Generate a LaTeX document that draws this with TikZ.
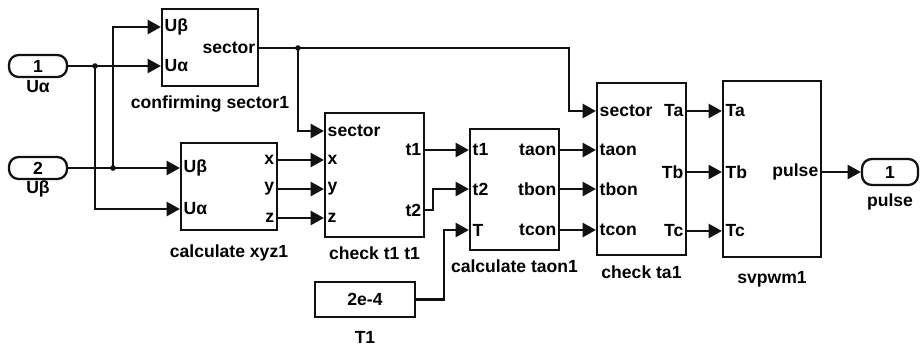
\documentclass[tikz,border=0pt]{standalone}
\usepackage{fontspec}
\setmainfont{Liberation Sans}
\usetikzlibrary{positioning,calc,arrows.meta}
\definecolor{ink}{HTML}{111111}
\tikzset{
  block/.style={draw=ink,line width=1.3pt,inner sep=0pt,fill=white},
  term/.style={draw=ink,line width=1.3pt,rounded corners=5.5pt,inner sep=0pt,
               font=\fontsize{10}{12}\selectfont\bfseries},
  pinin/.style={anchor=west,inner sep=2pt,font=\fontsize{10}{12}\selectfont\bfseries},
  pinout/.style={anchor=east,inner sep=2pt,font=\fontsize{10}{12}\selectfont\bfseries},
  caption/.style={inner sep=0pt,font=\fontsize{10}{12}\selectfont\bfseries},
  wire/.style={draw=ink,line width=1.2pt,-{Triangle[length=7.5pt,width=8pt]}},
  joint/.style={fill=ink}
}

\begin{document}
\begin{tikzpicture}[x=0.02cm,y=-0.02cm]
  \useasboundingbox (0,0) rectangle (920,345);

  % terminals
  \node[term,minimum width=1.16cm,minimum height=0.44cm] (in1) at (38,66) {1};
  \node[caption] at (38,87) {Uα};
  \node[term,minimum width=1.16cm,minimum height=0.44cm] (in2) at (38,168) {2};
  \node[caption] at (38,189) {Uβ};
  \node[term,minimum width=1.12cm,minimum height=0.52cm] (out1) at (890,172) {1};
  \node[caption] at (890,202) {pulse};
  \node[block,minimum width=2cm,minimum height=0.7cm,
        font=\fontsize{10}{12}\selectfont\bfseries] (t1) at (365,299.5) {2e-4};
  \node[caption] at (365,337) {T1};

  % blocks
  \node[block,minimum width=1.92cm,minimum height=1.54cm] (cs) at (210,47.5) {};
  \node[caption] at (210,104) {confirming sector1};
  \node[block,minimum width=1.92cm,minimum height=1.74cm] (xyz) at (229,186.5) {};
  \node[caption] at (229,253) {calculate xyz1};
  \node[block,minimum width=1.98cm,minimum height=2.48cm] (chk) at (374.5,175) {};
  \node[caption] at (374.5,253) {check t1 t1};
  \node[block,minimum width=1.78cm,minimum height=2.42cm] (taon) at (514.5,189.5) {};
  \node[caption] at (514.5,266) {calculate taon1};
  \node[block,minimum width=1.78cm,minimum height=3.44cm] (cta) at (641.5,169) {};
  \node[caption] at (641.5,272) {check ta1};
  \node[block,minimum width=1.96cm,minimum height=3.52cm] (svp) at (772,169) {};
  \node[caption] at (772,279) {svpwm1};

  % ports
  \coordinate (cs-ub)   at (cs.west |- 0,27);
  \coordinate (cs-ua)   at (cs.west |- 0,66);
  \coordinate (cs-sec)  at (cs.east |- 0,48);
  \coordinate (xyz-ub)  at (xyz.west |- 0,168);
  \coordinate (xyz-ua)  at (xyz.west |- 0,209);
  \coordinate (xyz-x)   at (xyz.east |- 0,160);
  \coordinate (xyz-y)   at (xyz.east |- 0,189);
  \coordinate (xyz-z)   at (xyz.east |- 0,218);
  \coordinate (chk-sec) at (chk.west |- 0,131);
  \coordinate (chk-x)   at (chk.west |- 0,160);
  \coordinate (chk-y)   at (chk.west |- 0,189);
  \coordinate (chk-z)   at (chk.west |- 0,218);
  \coordinate (chk-t1)  at (chk.east |- 0,150);
  \coordinate (chk-t2)  at (chk.east |- 0,210);
  \coordinate (taon-t1) at (taon.west |- 0,150);
  \coordinate (taon-t2) at (taon.west |- 0,189);
  \coordinate (taon-T)  at (taon.west |- 0,230);
  \coordinate (taon-a)  at (taon.east |- 0,150);
  \coordinate (taon-b)  at (taon.east |- 0,189);
  \coordinate (taon-c)  at (taon.east |- 0,230);
  \coordinate (cta-sec) at (cta.west |- 0,111);
  \coordinate (cta-a)   at (cta.west |- 0,150);
  \coordinate (cta-b)   at (cta.west |- 0,189);
  \coordinate (cta-c)   at (cta.west |- 0,230);
  \coordinate (cta-Ta)  at (cta.east |- 0,111);
  \coordinate (cta-Tb)  at (cta.east |- 0,172);
  \coordinate (cta-Tc)  at (cta.east |- 0,231);
  \coordinate (svp-a)   at (svp.west |- 0,111);
  \coordinate (svp-b)   at (svp.west |- 0,172);
  \coordinate (svp-c)   at (svp.west |- 0,231);
  \coordinate (svp-p)   at (svp.east |- 0,172);

  % port names
  \node[pinin] at (cs-ub) {Uβ};
  \node[pinin] at (cs-ua) {Uα};
  \node[pinout] at (cs-sec) {sector};
  \node[pinin] at (xyz-ub) {Uβ};
  \node[pinin] at (xyz-ua) {Uα};
  \node[pinout] at (xyz-x) {x};
  \node[pinout] at (xyz-y) {y};
  \node[pinout] at (xyz-z) {z};
  \node[pinin] at (chk-sec) {sector};
  \node[pinin] at (chk-x) {x};
  \node[pinin] at (chk-y) {y};
  \node[pinin] at (chk-z) {z};
  \node[pinout] at (chk-t1) {t1};
  \node[pinout] at (chk-t2) {t2};
  \node[pinin] at (taon-t1) {t1};
  \node[pinin] at (taon-t2) {t2};
  \node[pinin] at (taon-T) {T};
  \node[pinout] at (taon-a) {taon};
  \node[pinout] at (taon-b) {tbon};
  \node[pinout] at (taon-c) {tcon};
  \node[pinin] at (cta-sec) {sector};
  \node[pinin] at (cta-a) {taon};
  \node[pinin] at (cta-b) {tbon};
  \node[pinin] at (cta-c) {tcon};
  \node[pinout] at (cta-Ta) {Ta};
  \node[pinout] at (cta-Tb) {Tb};
  \node[pinout] at (cta-Tc) {Tc};
  \node[pinin] at (svp-a) {Ta};
  \node[pinin] at (svp-b) {Tb};
  \node[pinin] at (svp-c) {Tc};
  \node[pinout] at (svp-p) {pulse};

  % branch points
  \coordinate (j1) at (95,66);
  \coordinate (j2) at (113,168);
  \coordinate (j3) at (298,48);

  % wiring
  \draw[wire] (in1.east) -- (cs-ua);
  \draw[wire] (j1) |- (xyz-ua);
  \draw[wire] (in2.east) -- (xyz-ub);
  \draw[wire] (j2) |- (cs-ub);
  \draw[wire] (cs-sec) -| ($(cta-sec)+(-27,0)$) -- (cta-sec);
  \draw[wire] (j3) |- (chk-sec);
  \draw[wire] (xyz-x) -- (chk-x);
  \draw[wire] (xyz-y) -- (chk-y);
  \draw[wire] (xyz-z) -- (chk-z);
  \draw[wire] (chk-t1) -- (taon-t1);
  \draw[wire] (chk-t2) -- ++(8,0) |- (taon-t2);
  \draw[wire] (t1.east) -- ++(28,0) |- (taon-T);
  \draw[wire] (taon-a) -- (cta-a);
  \draw[wire] (taon-b) -- (cta-b);
  \draw[wire] (taon-c) -- (cta-c);
  \draw[wire] (cta-Ta) -- (svp-a);
  \draw[wire] (cta-Tb) -- (svp-b);
  \draw[wire] (cta-Tc) -- (svp-c);
  \draw[wire] (svp-p) -- (out1.west);
  \foreach \j in {j1,j2,j3}
    \fill[joint] (\j) circle[radius=1.6pt];
\end{tikzpicture}
\end{document}
